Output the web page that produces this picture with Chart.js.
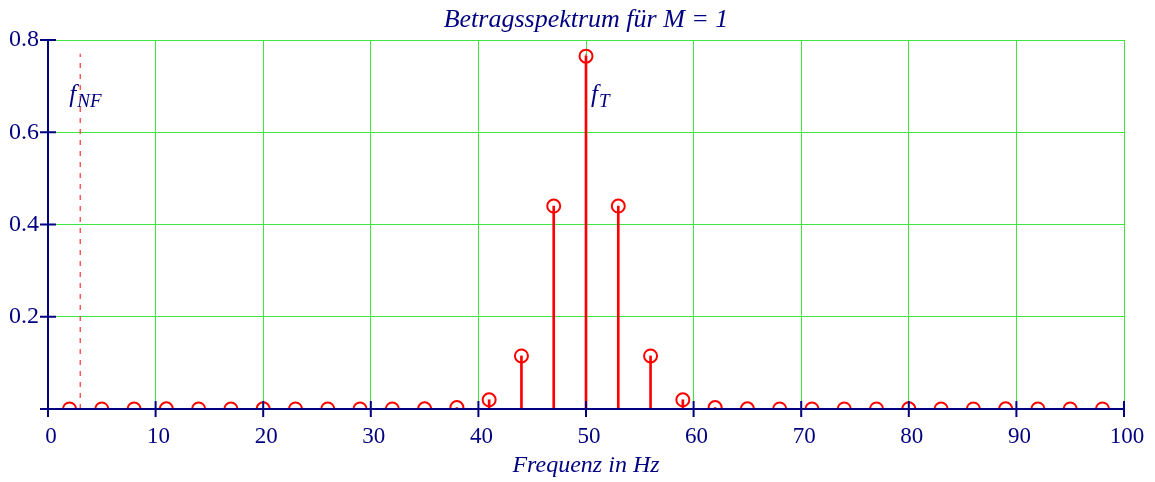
<!DOCTYPE html>
<html><head><meta charset="utf-8">
<script src="https://cdn.jsdelivr.net/npm/chart.js@4"></script>
<style>html,body{margin:0;padding:0;background:#fff}</style>
</head><body>
<canvas id="c" width="1155" height="482" style="width:1155px;height:482px;display:block"></canvas>
<script>
// ---- data ----
const frequencies = [2,5,8,11,14,17,20,23,26,29,32,35,38,41,44,47,50,53,56,59,62,65,68,71,74,77,80,83,86,89,92,95,98];
const amplitudes  = [0,0,0,0.0004,0,0,0.0004,0,0,0,0,0.0003,0.003,0.02,0.115,0.44,0.765,0.44,0.115,0.02,0.003,0.0003,0,0,0,0,0.0004,0,0,0.0004,0,0,0];
const markerFreqs  = [3, 50];
const markerSubs   = ['NF', 'T'];
const markerTop    = 0.77;
const labelLevel   = 0.665;
const xTickValues  = [0,10,20,30,40,50,60,70,80,90,100];
const yTickValues  = [0,0.2,0.4,0.6,0.8];
const titleText    = 'Betragsspektrum für M = 1';
const xTitleText   = 'Frequenz in Hz';

// ---- styles ----
const navy = '#000080', red = '#ff0000', green = '#3de83d';
const serif = '"Liberation Serif", "Times New Roman", serif';

const points = frequencies.map((f, i) => ({x: f, y: amplitudes[i]}));
const markerSets = markerFreqs.map(f => ({
  type: 'line',
  data: [{x: f, y: 0}, {x: f, y: markerTop}],
  borderColor: 'rgba(255,70,70,0.9)', borderWidth: 1.5, borderDash: [5, 6],
  pointRadius: 0, fill: false, order: 5
}));

const axesPlugin = {
  id: 'mathcadAxes',
  afterDatasetsDraw(chart) {
    const {ctx, chartArea: a, scales: {x, y}} = chart;
    ctx.save();
    ctx.strokeStyle = navy; ctx.lineWidth = 2;
    ctx.beginPath();
    ctx.moveTo(a.left - 8, a.bottom); ctx.lineTo(a.right, a.bottom);
    ctx.moveTo(a.left, a.top - 1); ctx.lineTo(a.left, a.bottom + 8);
    yTickValues.forEach(v => { const py = y.getPixelForValue(v); ctx.moveTo(a.left - 8, py); ctx.lineTo(a.left + 8, py); });
    xTickValues.forEach(v => { if (v === 0) return; const px = x.getPixelForValue(v); ctx.moveTo(px, a.bottom - 8); ctx.lineTo(px, a.bottom + 8); });
    ctx.stroke();
    // marker labels f_NF, f_T
    ctx.fillStyle = navy; ctx.textBaseline = 'alphabetic';
    markerFreqs.forEach((f, i) => {
      const px = x.getPixelForValue(f);
      const base = y.getPixelForValue(labelLevel);
      ctx.font = 'italic 25px ' + serif;
      const fw = ctx.measureText('f').width;
      const left = i === 0 ? px - 11 : px + 5;
      ctx.fillText('f', left, base);
      ctx.font = 'italic 19px ' + serif;
      ctx.fillText(markerSubs[i], left + fw + 1, base + 5);
    });
    // title centred over the plot area
    ctx.font = 'italic 26px ' + serif;
    ctx.textAlign = 'center';
    ctx.fillText(titleText, (a.left + a.right) / 2, 27);
    ctx.restore();
  }
};

new Chart(document.getElementById('c'), {
  type: 'scatter',
  data: {
    datasets: [
      ...markerSets,
      { type: 'bar', data: points, backgroundColor: red, borderWidth: 0, barThickness: 2, grouped: false, order: 2 },
      { type: 'scatter', data: points, pointStyle: 'circle', pointRadius: 6.5, pointBorderWidth: 2,
        borderColor: red, backgroundColor: 'rgba(0,0,0,0)', pointBackgroundColor: 'rgba(0,0,0,0)', order: 1 }
    ]
  },
  plugins: [axesPlugin],
  options: {
    responsive: false, animation: false, devicePixelRatio: 1,
    layout: { padding: { left: 0, right: 31, top: 40, bottom: 0 } },
    plugins: {
      legend: { display: false }, tooltip: { enabled: false }, title: { display: false }
    },
    scales: {
      x: {
        type: 'linear', min: 0, max: 100, offset: false,
        afterBuildTicks: s => { s.ticks = xTickValues.map(v => ({value: v})); },
        afterFit: s => { s.height = 73; },
        ticks: { color: navy, font: { family: serif, size: 23 }, padding: 6, labelOffset: 3, maxRotation: 0, autoSkip: false },
        grid: { color: green, lineWidth: 1, tickLength: 8, tickColor: 'rgba(0,0,0,0)', offset: false },
        border: { display: false },
        title: { display: true, text: xTitleText, color: navy,
                 font: { family: serif, size: 24, style: 'italic' }, padding: { top: 4, bottom: 2 } }
      },
      y: {
        type: 'linear', min: 0, max: 0.8,
        afterBuildTicks: s => { s.ticks = yTickValues.map(v => ({value: v})); },
        afterFit: s => { s.width = 48; },
        ticks: { color: navy, font: { family: serif, size: 24 }, padding: 1,
                 callback: v => v === 0 ? '' : v.toFixed(1) },
        grid: { color: green, lineWidth: 1, tickLength: 8, tickColor: 'rgba(0,0,0,0)' },
        border: { display: false }
      }
    }
  }
});
</script>
</body></html>
